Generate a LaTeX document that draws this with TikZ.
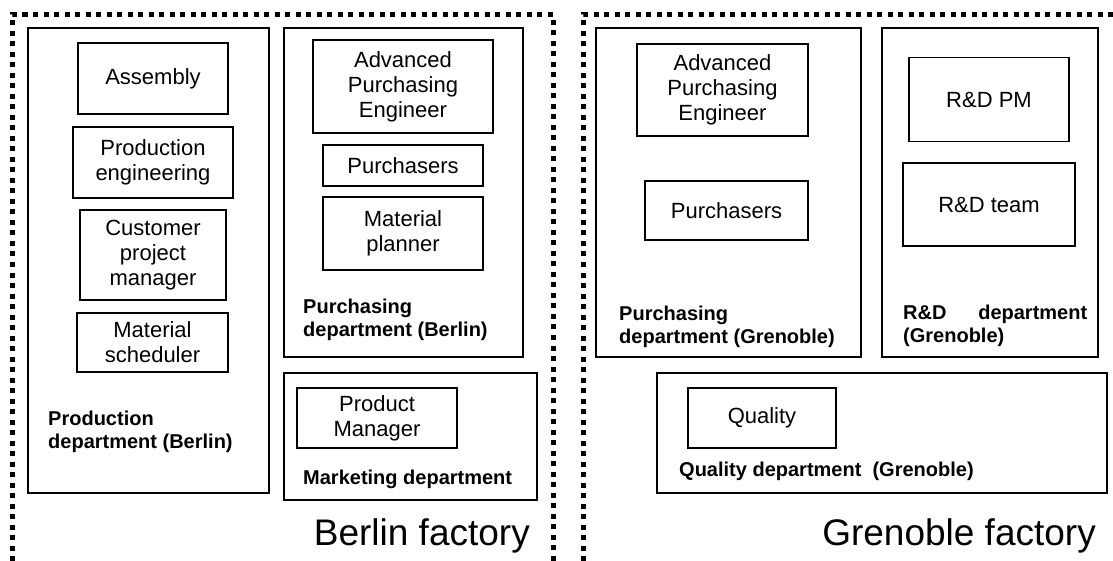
\documentclass[tikz,border=0pt]{standalone}
\usepackage{fontspec}
\setmainfont{Liberation Sans}
\usetikzlibrary{positioning}

\begin{document}
\begin{tikzpicture}[x=1pt, y=-1pt,
    unitbox/.style={draw, line width=1.3pt, align=center, inner sep=0pt,
      font=\fontsize{22}{25}\selectfont},
    deptbox/.style={draw, line width=2pt, inner sep=0pt},
    deptlabel/.style={anchor=north west, align=left, inner sep=0pt,
      font=\fontsize{20}{23}\selectfont\bfseries},
    factorylabel/.style={anchor=base east, inner sep=0pt,
      font=\fontsize{37}{40}\selectfont},
    frameline/.style={line width=5pt, dash pattern=on 5pt off 5.5pt}]
  \useasboundingbox (0,0) rectangle (1113,561);

  % factory frames
  \draw[frameline] (12,561) -- (12,15) -- (553,15) -- (553,561);
  \draw[frameline] (583,561) -- (583,15) -- (1113,15);

  % Berlin: production
  \node[deptbox, minimum width=241pt, minimum height=465pt] (prodBerlin) at (148.5,260.5) {};
  \node[unitbox, minimum width=150pt, minimum height=71pt] (assembly) at (153,78.5) {Assembly};
  \node[unitbox, minimum width=160pt, minimum height=71pt] (prodEng) at (153,162.5) {Production\\engineering};
  \node[unitbox, minimum width=146pt, minimum height=90pt] (custPM) at (153,255) {Customer\\project\\manager};
  \node[unitbox, minimum width=151pt, minimum height=59pt] (matSched) at (152.5,342.5) {Material\\scheduler};
  \node[deptlabel] (prodBerlinLabel) at (48,411) {Production\\department (Berlin)};

  % Berlin: purchasing
  \node[deptbox, minimum width=239pt, minimum height=329pt] (purchBerlin) at (403.5,192.5) {};
  \node[unitbox, minimum width=180pt, minimum height=93pt] (apeBerlin) at (403,86.5) {Advanced\\Purchasing\\Engineer};
  \node[unitbox, minimum width=160pt, minimum height=41pt] (purchasersBerlin) at (403,165.5) {Purchasers};
  \node[unitbox, minimum width=160pt, minimum height=73pt] (matPlanner) at (403,233.5) {Material\\planner};
  \node[deptlabel] (purchBerlinLabel) at (303,298.5) {Purchasing\\department (Berlin)};

  % Berlin: marketing
  \node[deptbox, minimum width=253pt, minimum height=127pt] (marketing) at (410.5,436.5) {};
  \node[unitbox, minimum width=160pt, minimum height=60pt] (productMgr) at (377,418) {Product\\Manager};
  \node[deptlabel] (marketingLabel) at (303,469.5) {Marketing department};

  \node[factorylabel] (berlin) at (530,545) {Berlin factory};

  % Grenoble: purchasing
  \node[deptbox, minimum width=265pt, minimum height=329pt] (purchGrenoble) at (728.5,192.5) {};
  \node[unitbox, minimum width=171pt, minimum height=92pt] (apeGrenoble) at (722.5,90) {Advanced\\Purchasing\\Engineer};
  \node[unitbox, minimum width=163pt, minimum height=59pt] (purchasersGrenoble) at (726.5,210.5) {Purchasers};
  \node[deptlabel] (purchGrenobleLabel) at (619,305.5) {Purchasing\\department (Grenoble)};

  % Grenoble: R&D
  \node[deptbox, minimum width=216pt, minimum height=329pt] (rdGrenoble) at (989.5,192.5) {};
  \node[unitbox, minimum width=160pt, minimum height=84pt] (rdPM) at (989,99.5) {R\&D PM};
  \node[unitbox, minimum width=172pt, minimum height=83pt] (rdTeam) at (989,204.5) {R\&D team};
  \node[deptlabel] (rdGrenobleLabel) at (903,304.5) {\parbox{184pt}{R\&D\hfill department\\(Grenoble)}};

  % Grenoble: quality
  \node[deptbox, minimum width=450pt, minimum height=120pt] (qualGrenoble) at (882,433) {};
  \node[unitbox, minimum width=148pt, minimum height=60pt] (quality) at (762,418) {Quality};
  \node[deptlabel] (qualGrenobleLabel) at (679,461.5) {Quality department\ \ (Grenoble)};

  \node[factorylabel] (grenoble) at (1096,545) {Grenoble factory};
\end{tikzpicture}
\end{document}
